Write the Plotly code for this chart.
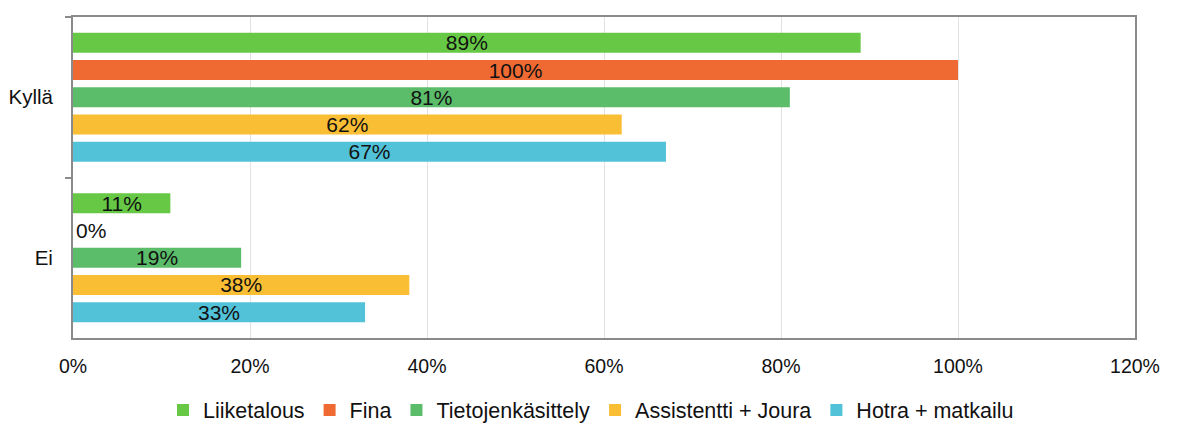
import plotly.graph_objects as go

categories = ["Kyllä", "Ei"]
series_names = ["Liiketalous", "Fina", "Tietojenkäsittely", "Assistentti + Joura", "Hotra + matkailu"]
liiketalous = [89, 11]
fina = [100, 0]
tietojenkasittely = [81, 19]
assistentti = [62, 38]
hotra = [67, 33]
colors = ["#66C844", "#EF6A33", "#5BBD6A", "#F9BE33", "#52C2D8"]
x_ticks = [0, 20, 40, 60, 80, 100, 120]
x_tick_labels = ["0%", "20%", "40%", "60%", "80%", "100%", "120%"]

values = [liiketalous, fina, tietojenkasittely, assistentti, hotra]
FONT = "Liberation Sans, Arial, Helvetica, sans-serif"

fig = go.Figure()
for name, vals, col in zip(series_names, values, colors):
    fig.add_trace(go.Bar(
        y=categories, x=vals, name=name, orientation="h",
        marker=dict(color=col, line=dict(width=0)),
        text=[f"{v}%" for v in vals],
        textposition=["inside" if v > 0 else "outside" for v in vals],
        insidetextanchor="middle", constraintext="none",
        textfont=dict(color="#111111", size=21, family=FONT),
        cliponaxis=False,
    ))

fig.update_layout(
    width=1182, height=424,
    margin=dict(l=73, r=47, t=17, b=86, autoexpand=False),
    barmode="group", bargap=0.152, bargroupgap=0.27,
    plot_bgcolor="white", paper_bgcolor="white",
    font=dict(family=FONT, size=19, color="#111111"),
    legend=dict(orientation="h", x=0.5, xanchor="center", xref="container",
                y=0.033, yanchor="middle", yref="container",
                font=dict(size=21.5, family=FONT), itemwidth=30,
                traceorder="normal"),
    xaxis=dict(range=[0, 120], tickvals=x_ticks, ticktext=x_tick_labels,
               showgrid=True, gridcolor="#E2E2E2", gridwidth=1,
               showline=True, linecolor="#8A8A8A", linewidth=2, mirror=True,
               ticks="", zeroline=False, tickfont=dict(size=19.5),
               ticklabelstandoff=10, automargin=False),
    xaxis2=dict(range=[0, 120], overlaying="x", side="top", tickvals=x_ticks,
                showticklabels=False, ticks="outside", ticklen=6, tickcolor="#8A8A8A",
                tickwidth=1.5, showgrid=False, showline=False, zeroline=False),
    yaxis=dict(autorange="reversed", showline=True, linecolor="#8A8A8A", linewidth=2,
               mirror=True, ticks="outside", tickson="boundaries", ticklen=6,
               tickcolor="#8A8A8A", tickwidth=1.5, showgrid=False,
               tickfont=dict(size=20.5), ticklabelstandoff=14, automargin=False),
)

fig.write_html("out.html")
